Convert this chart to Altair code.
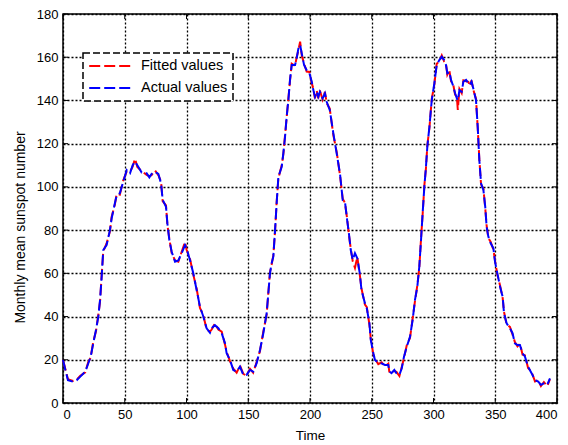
import altair as alt
import pandas as pd

time = [0, 2, 4, 8, 11, 14, 18, 20.5, 22.4, 24.5, 26.7, 28.6, 30, 31.3, 32.6, 35.3, 38, 39.4, 42, 43.5,
        46, 48.8, 51.6, 54.3, 56.4, 58.3, 60.2, 63.7, 67.7, 69.9, 71.7, 74.5, 77.2, 79.4, 80.7, 83.4, 84.5, 86.1, 88, 90.7,
        93.4, 96.1, 98.8, 100, 102.8, 105.5, 108.2, 110.9, 113.6, 116.3, 119, 120.4, 123, 125.8, 128.5, 131.2, 132.5, 135.2, 137.9, 140.6,
        143.3, 146, 148.6, 151.4, 154, 156.8, 159.5, 162.2, 164.9, 167.6, 168.9, 170.3, 171.7, 173, 174.4, 177.1, 178.4, 179.8, 181.1, 182.5,
        183.8, 185.2, 187.9, 189.2, 190.6, 192, 193.3, 195.2, 197.3, 199.5, 201.4, 202.7, 204, 205.4, 206.7, 208, 210.2, 212.1, 213.5, 216,
        218.9, 221.6, 224.3, 226.5, 228.3, 230, 231.5, 233, 234.6, 236.4, 238.3, 240.3, 241.7, 244.5, 246, 248.1, 249.2, 251.3, 252.6, 255.3,
        258, 260.7, 263.4, 264.3, 266, 268.3, 270, 272.4, 274.3, 276.1, 278.3, 281, 283.1, 285, 286.9, 288.5, 289.9, 291.2, 292.6, 293.9,
        295, 296.7, 298.6, 300.7, 302.6, 304.7, 306.7, 308.6, 310.1, 311.2, 312.8, 314.2, 316.1, 317.5, 318.9, 319.7, 321, 322.8, 324.2, 326.4,
        328.2, 329.5, 330.8, 332.2, 334.4, 335.8, 337.1, 338.5, 340.4, 341.9, 343, 344.4, 346.3, 348.5, 349.8, 351.7, 353.9, 356, 357.1, 359.2,
        361.9, 364, 365.9, 368, 370, 372.1, 374, 376.6, 379.4, 382.2, 384.8, 387, 389.4, 392.1, 394.3]

actual = [20, 15, 10.6, 9.9, 10.5, 12.2, 14.5, 18.4, 21.4, 27.6, 33.8, 40, 47.7, 58.4, 70.8, 73.1, 80, 85.5, 92.4, 96.2,
          97, 102.4, 107.8, 106.3, 110, 111.7, 110, 106.6, 106.3, 104.4, 106, 107, 106, 101.7, 94, 90.8, 83.2, 75.4, 70, 65.4,
          66, 69.3, 73.1, 71.6, 66.2, 60, 52.3, 44.6, 40, 34.6, 32.5, 34.6, 36, 34.6, 32.3, 27.6, 23, 19.9, 15.3, 14.5,
          16.8, 13, 13, 15.3, 14.5, 18.4, 24.5, 32.3, 41.5, 60, 64.6, 67.7, 80, 92.4, 104.7, 109.3, 115.5, 123.2, 132.5, 140.2,
          149.5, 156.4, 156.4, 159.5, 164, 165.7, 161.8, 156.4, 154, 152.6, 148.7, 144.8, 141.7, 144, 141.7, 144, 141, 143.3, 139.4, 135.6,
          124.8, 115.5, 106, 93.9, 93.2, 85, 78.5, 70.8, 66.2, 69.3, 67, 60, 52.3, 46.1, 43.8, 36.9, 29.2, 23, 19.9, 18.6,
          18.3, 17.6, 17.6, 14.5, 13.8, 15.3, 13.8, 13, 16.1, 21.4, 26, 30.7, 38.4, 47.7, 53.8, 63.1, 75.4, 87.8, 100.1, 109.3,
          118.6, 127.9, 140.2, 148, 156.4, 158.7, 160.2, 158.7, 156.4, 152.6, 153.3, 149.5, 146.4, 143.3, 141, 140, 144.7, 144, 148.7, 149.5,
          148, 147.2, 148.7, 145.6, 140.2, 127.9, 112.5, 101.7, 98.6, 90.8, 81.6, 77, 73.9, 71.6, 65.4, 60, 53.8, 49.2, 41.5, 36.9,
          34.6, 32.3, 27.6, 26.8, 26.8, 23, 21.5, 16.8, 13.8, 10.6, 9.9, 8.4, 9.1, 8.4, 11.4]

fitted = [20, 15.5, 11, 10.2, 10.8, 12.6, 14.2, 19, 21, 28.4, 33.2, 40.8, 47, 59, 70.2, 73.8, 79.4, 86.2, 91.8, 96.8,
          96.4, 103, 107.2, 107, 109.4, 113, 109.2, 107.3, 105.6, 105, 105.4, 107.6, 105.4, 102.4, 93.4, 91.4, 82.6, 76, 69.4, 66,
          65.4, 70, 74.5, 71, 66.8, 59.4, 53, 44, 40.6, 34, 33, 34, 36.8, 34, 33, 27, 23.6, 19.4, 15.9, 14, 17.3, 13.5, 12.6, 15.8, 14,
          19, 24, 33, 41, 60.6, 64, 68.3, 79.4, 93, 104, 110, 115, 124, 132, 141, 149, 157, 156, 160, 163.2, 167.2, 161, 157, 153.4, 153.2,
          148, 145.5, 141, 144.6, 141, 144.6, 140.4, 144, 138.8, 136.2,
          124, 116.2, 105.4, 94.5, 92.6, 85.6, 78, 71.4, 65.6, 62.5, 67.6, 59.4, 53, 45.5, 44.4, 36.3, 29.8, 22.4, 20.4, 18,
          18.8, 17, 18.2, 14, 14.3, 14.8, 14.4, 12.5, 16.7, 20.8, 26.6, 30.2, 39, 47.1, 54.4, 62.5, 76, 87.2, 100.7, 108.7,
          119.2, 127.3, 140.8, 147.4, 157, 158.1, 160.8, 158, 157, 152, 154, 148.9, 147, 142.7, 141.6, 135.6, 145.3, 143.4, 149.3, 148.9,
          148.6, 146.6, 149.3, 145, 140.8, 127.3, 113, 101.1, 99.2, 90.2, 82.2, 76.4, 74.5, 71, 66, 59.4, 54.4, 48.6, 42.1, 36.3,
          35.2, 31.7, 28.2, 26.2, 27.4, 22.4, 22.1, 16.2, 14.4, 10, 10.5, 7.8, 9.7, 7.8, 11]

x_ticks = [0, 50, 100, 150, 200, 250, 300, 350, 400]
y_ticks = [0, 20, 40, 60, 80, 100, 120, 140, 160, 180]
series_names = ["Fitted values", "Actual values"]

W, H = 494, 389
FONT = "Liberation Sans"

df = pd.DataFrame({"t": time, "actual": actual, "fitted": fitted})
xt = pd.DataFrame({"v": x_ticks})
yt = pd.DataFrame({"v": y_ticks})

xscale = alt.Scale(domain=[0, 400], nice=False)
yscale = alt.Scale(domain=[0, 180], nice=False)
cscale = alt.Scale(domain=series_names, range=["#ff0000", "#0000ff"])

xaxis = alt.Axis(values=x_ticks, title="Time", grid=True, ticks=False, tickSize=0, labelPadding=5,
                 titleY=32, titleBaseline="middle", titleFontSize=13.5, domain=False)
yaxis = alt.Axis(values=y_ticks, title="Monthly mean sunspot number", grid=True, ticks=False, tickSize=0,
                 labelPadding=5, titleX=-43, titleY=213, titleAngle=-90, titleBaseline="middle",
                 titleAlign="center", titleFontSize=14, domain=False)

legend = alt.Legend(title=None, orient="none", legendX=20, legendY=39, symbolType="stroke",
                    symbolSize=1900, symbolStrokeWidth=2, symbolDash=[11, 4], labelFontSize=14.5,
                    labelFont=FONT, labelColor="black", padding=5, rowPadding=6, labelOffset=7,
                    clipHeight=16, fillColor="white", strokeColor="black")

fit_line = alt.Chart(df).transform_calculate(series="'Fitted values'").mark_line(
    strokeWidth=2, strokeDash=[11, 4]).encode(
    x=alt.X("t:Q", scale=xscale, axis=xaxis),
    y=alt.Y("fitted:Q", scale=yscale, axis=yaxis),
    color=alt.Color("series:N", scale=cscale, legend=legend),
)
act_line = alt.Chart(df).transform_calculate(series="'Actual values'").mark_line(
    strokeWidth=2, strokeDash=[11, 4]).encode(
    x=alt.X("t:Q", scale=xscale),
    y=alt.Y("actual:Q", scale=yscale),
    color=alt.Color("series:N", scale=cscale, legend=legend),
)

tick_style = dict(color="black", strokeWidth=1)
ybl = alt.Chart(yt).mark_rule(**tick_style).encode(y=alt.Y("v:Q", scale=yscale), x=alt.value(0), x2=alt.value(5))
ybr = alt.Chart(yt).mark_rule(**tick_style).encode(y=alt.Y("v:Q", scale=yscale), x=alt.value(W), x2=alt.value(W - 5))
xbb = alt.Chart(xt).mark_rule(**tick_style).encode(x=alt.X("v:Q", scale=xscale), y=alt.value(H), y2=alt.value(H - 5))
xbt = alt.Chart(xt).mark_rule(**tick_style).encode(x=alt.X("v:Q", scale=xscale), y=alt.value(0), y2=alt.value(5))

chart = alt.layer(fit_line, act_line, ybl, ybr, xbb, xbt).properties(
    width=W, height=H,
    autosize=alt.AutoSizeParams(type="none"),
    padding={"left": 55, "top": 6, "right": 3, "bottom": 42},
    background="white",
).configure_view(
    stroke="black", strokeWidth=1.5
).configure_axis(
    gridColor="black", gridDash=[2, 2], gridWidth=1.3, gridOpacity=1,
    labelFont=FONT, labelFontSize=13, labelColor="black",
    titleFont=FONT, titleColor="black", titleFontWeight="normal",
).configure_legend(
    strokeDash=[7, 3], strokeWidth=1.5,
)

chart.save("out.html", embed_options={"renderer": "svg", "actions": False})
